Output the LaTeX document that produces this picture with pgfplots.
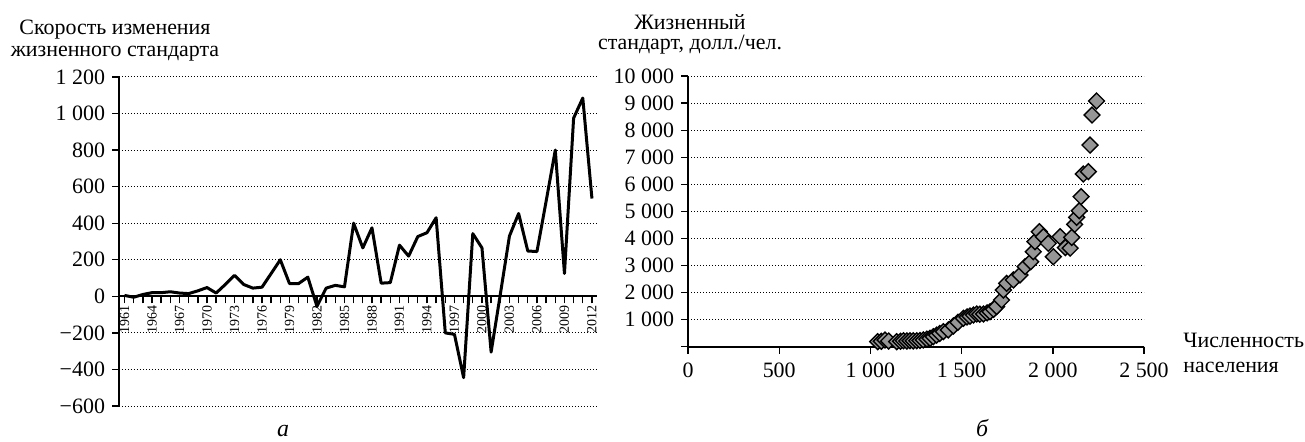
\documentclass[border=0pt]{standalone}
\usepackage{fontspec}
\setmainfont{Liberation Serif}
\usepackage{pgfplots}
\pgfplotsset{compat=1.18}
\definecolor{mk}{RGB}{150,150,150}
\newcommand{\fs}[1]{\fontsize{#1}{#1}\selectfont}
\begin{document}
\begin{tikzpicture}
\useasboundingbox (0,0) rectangle (652.5bp,221bp);
\pgfplotsset{
  every axis/.append style={
    scale only axis, anchor=south west, tick align=outside,
    axis line style={line width=0.9bp},
    tick style={black, line width=0.7bp},
    major tick length=3.5bp,
    ymajorgrids,
    grid style={black, line width=0.5bp, dash pattern=on 0.5bp off 1bp},
    tick label style={font=\fs{11}},
    scaled x ticks=false, scaled y ticks=false,
    hide obscured x ticks=false, hide obscured y ticks=false,
  }
}
% (a) rate of change
\begin{axis}[
  at={(59.5bp,18bp)}, width=239bp, height=164.5bp,
  xmin=1960.4, xmax=2012.55, ymin=-600, ymax=1200,
  axis x line*=middle, axis y line*=left,
  ytick={-600,-400,...,1200},
  yticklabels={−600,−400,−200,0,200,400,600,800,1~000,1~200},
  xtick={1961,...,2012},
  xticklabels={1961,,,1964,,,1967,,,1970,,,1973,,,1976,,,1979,,,1982,,,1985,,,1988,,,1991,,,1994,,,1997,,,2000,,,2003,,,2006,,,2009,,,2012},
  xticklabel style={rotate=90, anchor=east, font=\fs{7}, inner sep=0.8bp},
]
\addplot[black, line width=1.5bp, line join=round] coordinates {
(1961,5) (1962,-5) (1963,10) (1964,20) (1965,20) (1966,25) (1967,18) (1968,15)
(1969,30) (1970,48) (1971,18) (1972,65) (1973,115) (1974,65) (1975,45) (1976,50)
(1977,125) (1978,200) (1979,70) (1980,70) (1981,105) (1982,-55) (1983,45) (1984,60)
(1985,52) (1986,400) (1987,265) (1988,375) (1989,72) (1990,75) (1991,280) (1992,220)
(1993,327) (1994,348) (1995,430) (1996,-200) (1997,-208) (1998,-445) (1999,343) (2000,265)
(2001,-305) (2002,10) (2003,330) (2004,453) (2005,248) (2006,245) (2007,520) (2008,800)
(2009,125) (2010,975) (2011,1085) (2012,535)
};
\end{axis}
% (b) living standard vs population
\begin{axis}[
  at={(344bp,47.65bp)}, width=228bp, height=135.3bp,
  xmin=0, xmax=2500, ymin=0, ymax=10000,
  axis lines*=left, clip=false,
  xtick={0,500,...,2500}, xticklabels={0,500,1~000,1~500,2~000,2~500},
  ytick={0,1000,...,10000},
  yticklabels={,1~000,2~000,3~000,4~000,5~000,6~000,7~000,8~000,9~000,10~000},
  xticklabel style={yshift=-1bp},
]
\addplot[only marks, mark=square*, mark size=2.8bp,
  mark options={rotate=45, fill=mk, draw=black, line width=0.7bp}] table {
x y
1040 185
1060 200
1080 250
1100 210
1144 185
1165 200
1181 220
1200 210
1217 220
1235 215
1254 220
1272 230
1290 250
1310 280
1327 310
1345 370
1363 430
1380 490
1400 555
1427 620
1455 765
1480 900
1510 1050
1530 1100
1546 1130
1565 1170
1583 1210
1600 1200
1620 1210
1640 1250
1656 1295
1675 1380
1692 1480
1719 1725
1729 2095
1747 2340
1784 2465
1820 2650
1848 2960
1879 3140
1893 3510
1902 3880
1926 4250
1948 4065
1975 3820
2003 3325
2040 4065
2069 3660
2095 3640
2104 4040
2120 4520
2131 4780
2145 5025
2155 5545
2167 6380
2195 6470
2204 7450
2215 8560
2240 9080
};
\end{axis}
\begin{scope}[every node/.style={font=\fs{11}}]
\node[anchor=base] at (57.5bp,203.5bp) {Скорость изменения};
\node[anchor=base] at (57.5bp,192.5bp) {жизненного стандарта};
\node[anchor=base] at (345bp,206bp) {Жизненный};
\node[anchor=base] at (345bp,196bp) {стандарт, долл./чел.};
\node[anchor=base west, inner sep=0] at (591.5bp,47bp) {Численность};
\node[anchor=base west, inner sep=0] at (591.5bp,35bp) {населения};
\node[anchor=base, font=\fs{12}\itshape] at (141.5bp,3bp) {а};
\node[anchor=base, font=\fs{12}\itshape] at (491bp,3bp) {б};
\end{scope}
\end{tikzpicture}
\end{document}
